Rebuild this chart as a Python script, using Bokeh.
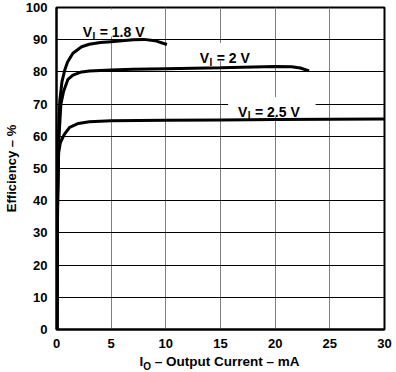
from bokeh.plotting import figure
from bokeh.models import FixedTicker, Label, BoxAnnotation, Range1d, Div
from bokeh.layouts import column
from bokeh.embed import file_html
from bokeh.resources import INLINE

# ---- data ----
x_ticks = [0, 5, 10, 15, 20, 25, 30]
y_ticks = [0, 10, 20, 30, 40, 50, 60, 70, 80, 90, 100]

io_18 = [0.05, 0.1, 0.2, 0.3, 0.5, 0.75, 1.0, 1.5, 2.3, 3.0, 4.0, 5.0, 6.0, 7.0, 8.0, 9.0, 10.1]
eff_18 = [0, 40, 62, 71, 77, 80.5, 83, 85.8, 87.8, 88.6, 89.1, 89.4, 89.7, 90.0, 90.1, 89.7, 88.5]

io_20 = [0.05, 0.1, 0.2, 0.4, 0.65, 1.05, 1.5, 2.3, 3.0, 5.0, 7.0, 10.0, 15.0, 20.0, 21.5, 22.3, 23.1]
eff_20 = [0, 38, 58, 70, 74, 77.7, 79, 80, 80.3, 80.6, 80.8, 81.0, 81.3, 81.7, 81.6, 81.2, 80.3]

io_25 = [0.05, 0.1, 0.15, 0.2, 0.35, 0.7, 1.2, 2.0, 3.0, 5.0, 10.0, 15.0, 20.0, 25.0, 30.0]
eff_25 = [0, 42, 50, 55, 58, 60.5, 62.8, 64.0, 64.5, 64.8, 65.0, 65.1, 65.2, 65.3, 65.4]

FONT = "Liberation Sans"
W = 396
LEFT = 55
RIGHT = 12

p = figure(width=W, height=350, output_backend="svg", toolbar_location=None,
           x_range=Range1d(0, 30), y_range=Range1d(0, 100),
           min_border_left=LEFT, min_border_right=RIGHT, min_border_top=7, min_border_bottom=18)

p.background_fill_color = "white"
p.border_fill_color = "white"
p.outline_line_color = "black"
p.outline_line_width = 2

p.xaxis.ticker = FixedTicker(ticks=x_ticks)
p.yaxis.ticker = FixedTicker(ticks=y_ticks)
for ax in (p.xaxis, p.yaxis):
    ax.major_tick_line_color = None
    ax.minor_tick_line_color = None
    ax.axis_line_color = "black"
    ax.axis_line_width = 2
    ax.major_label_text_font = FONT
    ax.major_label_text_font_style = "bold"
    ax.major_label_text_font_size = "13px"
    ax.major_label_text_color = "black"
    ax.major_label_standoff = 3

p.yaxis.axis_label = "Efficiency – %"
p.yaxis.axis_label_text_font = FONT
p.yaxis.axis_label_text_font_style = "bold"
p.yaxis.axis_label_text_font_size = "13px"
p.yaxis.axis_label_text_color = "black"
p.yaxis.axis_label_standoff = 4

p.xgrid.grid_line_color = "#7f7f7f"
p.xgrid.grid_line_width = 1
p.ygrid.grid_line_color = "black"
p.ygrid.grid_line_width = 1

for xs, ys in ((io_18, eff_18), (io_20, eff_20), (io_25, eff_25)):
    p.line(xs, ys, line_color="black", line_width=3)

# white backgrounds behind curve labels
p.add_layout(BoxAnnotation(left=1.9, right=9.3, bottom=91.0, top=99.4,
                           fill_color="white", fill_alpha=1, line_color=None))
p.add_layout(BoxAnnotation(left=12.5, right=18.6, bottom=83.3, top=89.0,
                           fill_color="white", fill_alpha=1, line_color=None))
p.add_layout(BoxAnnotation(left=15.7, right=23.7, bottom=66.1, top=72.1,
                           fill_color="white", fill_alpha=1, line_color=None))


def sub_label(x, y, main, sub, rest, size=14, sub_size=10, main_w=0.667, sub_w=0.278):
    common = dict(x=x, y=y, text_font=FONT, text_font_style="bold",
                  text_color="black", text_align="left", text_baseline="alphabetic")
    p.add_layout(Label(text=main, text_font_size=f"{size}px", **common))
    mw = main_w * size
    p.add_layout(Label(text=sub, text_font_size=f"{sub_size}px", x_offset=mw + 0.5,
                       y_offset=-4, **common))
    p.add_layout(Label(text=rest, text_font_size=f"{size}px",
                       x_offset=mw + sub_w * sub_size + 1.0 + 0.278 * size, **common))


sub_label(2.4, 92.3, "V", "I", "= 1.8 V")
sub_label(13.1, 84.2, "V", "I", "= 2 V")
sub_label(16.6, 67.6, "V", "I", "= 2.5 V")

# x axis title with subscript (HTML text below the figure, centred on the frame)
frame_w = W - LEFT - RIGHT
xtitle = Div(
    text=('<span style="font-family:\'Liberation Sans\';font-weight:bold;font-size:13.5px;color:black;">'
          'I<sub style="font-size:10px;">O</sub> – Output Current – mA</span>'),
    width=frame_w, height=18, margin=(4, 0, 0, LEFT),
    styles={"text-align": "center", "width": f"{frame_w}px", "line-height": "16px"},
)

layout = column(p, xtitle, spacing=0)
open("out.html", "w").write(file_html(layout, INLINE))
